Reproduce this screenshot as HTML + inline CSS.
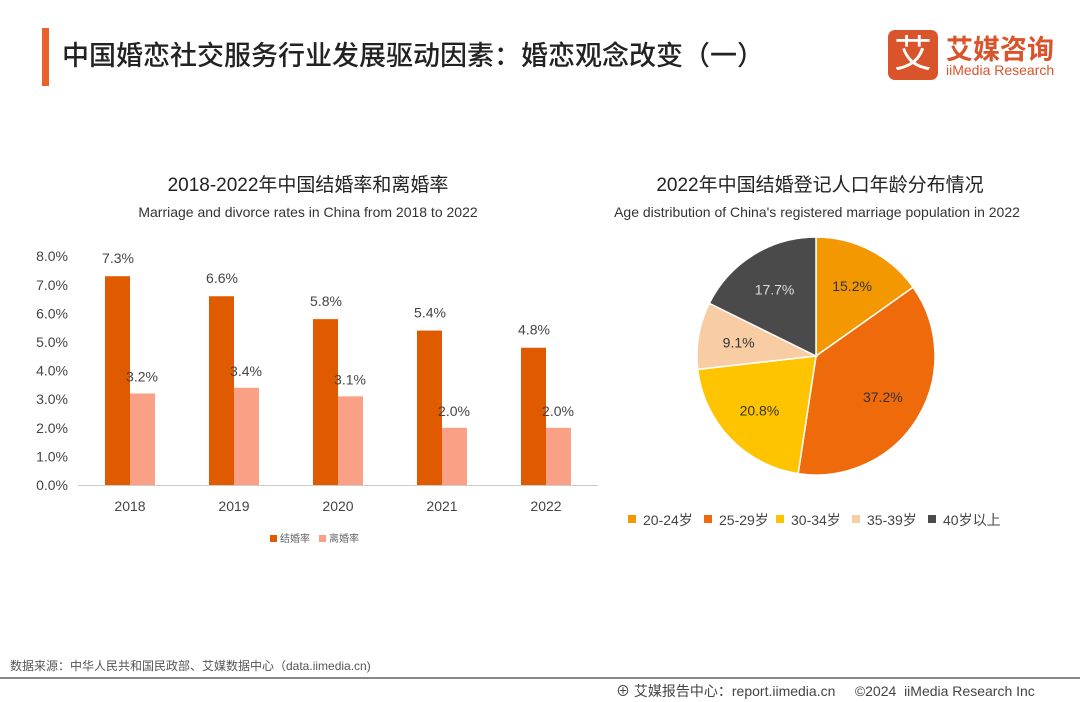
<!DOCTYPE html>
<html><head><meta charset="utf-8"><style>
body{margin:0;width:1080px;height:702px;background:#fff;font-family:"Liberation Sans","Noto Sans CJK SC",sans-serif;overflow:hidden;position:relative}
.t{position:absolute;white-space:nowrap}
</style></head><body>
<div style="position:absolute;left:42px;top:28px;width:7px;height:58px;background:#E8632B"></div>
<div class="t" style="left:62px;top:34px;font-size:27px;color:#222;font-weight:500">中国婚恋社交服务行业发展驱动因素：婚恋观念改变（一）</div>
<div style="position:absolute;left:888px;top:30px;width:50px;height:50px;background:#D9532B;border-radius:7px;color:#fff;font-size:38px;text-align:center;line-height:50px">艾</div>
<div class="t" style="left:946px;top:28px;font-size:27px;color:#D9532B;font-weight:bold">艾媒咨询</div>
<div class="t" style="left:946px;top:62px;font-size:14px;color:#D9532B">iiMedia Research</div>

<div class="t" style="left:0;width:616px;text-align:center;top:170px;font-size:19px;color:#222">2018-2022年中国结婚率和离婚率</div>
<div class="t" style="left:0;width:616px;text-align:center;top:204px;font-size:14px;color:#333">Marriage and divorce rates in China from 2018 to 2022</div>
<div class="t" style="left:580px;width:480px;text-align:center;top:170px;font-size:19px;color:#222">2022年中国结婚登记人口年龄分布情况</div>
<div class="t" style="left:570px;width:494px;text-align:center;top:204px;font-size:14px;color:#333">Age distribution of China's registered marriage population in 2022</div>

<svg id="bar" width="620" height="560" style="position:absolute;left:0;top:0"></svg>
<svg id="pie" width="1080" height="560" style="position:absolute;left:0;top:0"></svg>

<div class="t" style="left:10px;top:657px;font-size:12px;color:#555">数据来源：中华人民共和国民政部、艾媒数据中心（data.iimedia.cn)</div>
<div style="position:absolute;left:0;top:677px;width:1080px;height:2px;background:#888"></div>
<div class="t" style="left:616px;top:681px;font-size:14px;color:#444">⊕ 艾媒报告中心：report.iimedia.cn &nbsp;&nbsp;&nbsp;&nbsp;©2024 &nbsp;iiMedia Research Inc</div>

<script>
const years=["2018","2019","2020","2021","2022"];
const marriage=[7.3,6.6,5.8,5.4,4.8];
const divorce=[3.2,3.4,3.1,2.0,2.0];
const yTicks=[0,1,2,3,4,5,6,7,8];
const ageGroups=["20-24岁","25-29岁","30-34岁","35-39岁","40岁以上"];
const ageShares=[15.2,37.2,20.8,9.1,17.7];
const pieColors=["#F39800","#EE6A0A","#FFC400","#F9CDA3","#4A4A4A"];
const NS="http://www.w3.org/2000/svg";
function mk(svg,tag,attrs,txt){const e=document.createElementNS(NS,tag);for(const k in attrs)e.setAttribute(k,attrs[k]);if(txt!=null)e.textContent=txt;svg.appendChild(e);return e;}
const bar=document.getElementById('bar');
const y0=485,pxPer=28.6;
const yS=v=>y0-v*pxPer;
const xS=i=>130+i*104;
yTicks.forEach(t=>{const e=mk(bar,'text',{x:68,y:yS(t)+5,'text-anchor':'end','font-size':14,fill:'#444'},t.toFixed(1)+'%');
});
const ax=mk(bar,'line',{x1:78,x2:598,y1:y0+0.5,y2:y0+0.5,stroke:'#ccc'});

years.forEach((y,i)=>{
 const c=xS(i);
 const b1=mk(bar,'rect',{x:c-25,y:yS(marriage[i]),width:25,height:marriage[i]*pxPer,fill:'#E05A00'});
 
 const b2=mk(bar,'rect',{x:c,y:yS(divorce[i]),width:25,height:divorce[i]*pxPer,fill:'#F9A085'});
 
 const l1=mk(bar,'text',{x:c-12,y:yS(marriage[i])-13,'text-anchor':'middle','font-size':14,fill:'#444'},marriage[i].toFixed(1)+'%');
 
 const l2=mk(bar,'text',{x:c+12,y:yS(divorce[i])-12,'text-anchor':'middle','font-size':14,fill:'#444'},divorce[i].toFixed(1)+'%');
 
 const xl=mk(bar,'text',{x:c,y:511,'text-anchor':'middle','font-size':14,fill:'#444'},y);
 
});
[["结婚率","#E05A00",270],["离婚率","#F9A085",319]].forEach(([n,c,x])=>{
 const r=mk(bar,'rect',{x:x,y:535,width:7,height:7,fill:c});
 
 const t=mk(bar,'text',{x:x+10,y:542,'font-size':10,fill:'#666'},n);
 
});
const pie=document.getElementById('pie');
const cx=816,cy=356,R=119;
const tot=ageShares.reduce((a,b)=>a+b,0);
let a=-Math.PI/2;
ageShares.forEach((v,i)=>{
 const da=v/tot*2*Math.PI,a2=a+da;
 const p=mk(pie,'path',{d:`M${cx},${cy} L${cx+R*Math.cos(a)},${cy+R*Math.sin(a)} A${R},${R} 0 ${da>Math.PI?1:0} 1 ${cx+R*Math.cos(a2)},${cy+R*Math.sin(a2)} Z`,fill:pieColors[i],stroke:'#fff','stroke-width':1.5});
 
 const m=(a+a2)/2,r=R*0.66;
 const t=mk(pie,'text',{x:cx+r*Math.cos(m),y:cy+r*Math.sin(m)+5,'text-anchor':'middle','font-size':14,fill:i===4?'#ddd':'#333'},v.toFixed(1)+'%');
 
 a=a2;
});
const lx=[628,704,776,852,928];
ageGroups.forEach((g,i)=>{
 const r=mk(pie,'rect',{x:lx[i],y:515,width:8,height:8,fill:pieColors[i]});
 
 const t=mk(pie,'text',{x:lx[i]+15,y:525,'font-size':14,fill:'#444'},g);
 
});
</script>
</body></html>
